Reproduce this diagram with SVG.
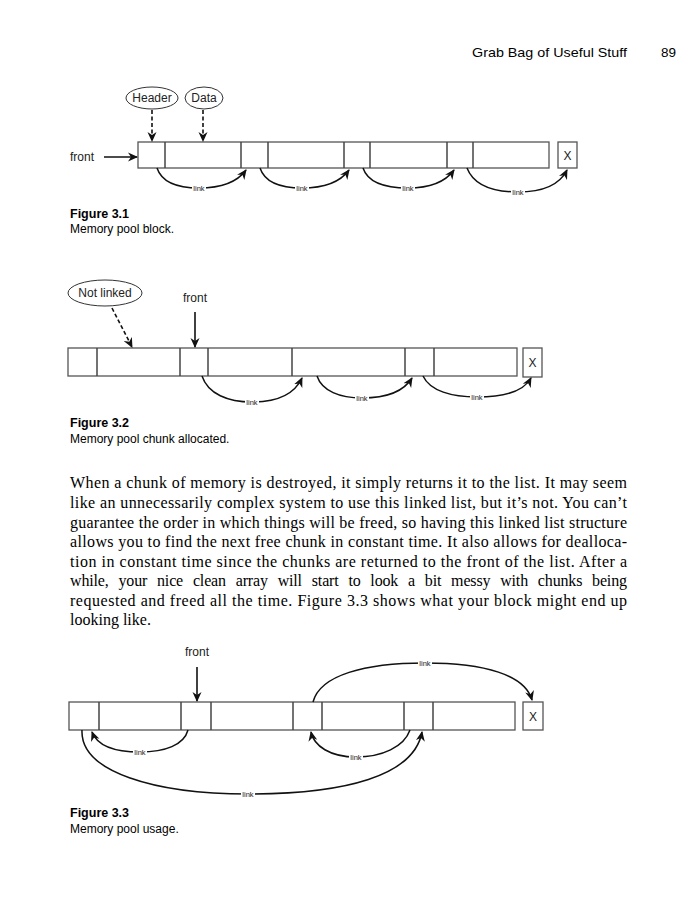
<svg xmlns="http://www.w3.org/2000/svg" width="695" height="904" viewBox="0 0 695 904">
<style>
.cell{fill:#fff;stroke:#555;stroke-width:1.3}
.div{stroke:#444;stroke-width:1.5}
.arc{fill:none;stroke:#111;stroke-width:1.5}
.ptr{fill:none;stroke:#111;stroke-width:1.6}
.dash{fill:none;stroke:#111;stroke-width:1.6;stroke-dasharray:4,2.5}
.ell{fill:#fff;stroke:#333;stroke-width:1}
.lbl{font-family:"Liberation Sans",Arial,sans-serif;font-size:12px;fill:#222}
.lnk{font-family:"Liberation Sans",Arial,sans-serif;font-size:7.5px;fill:#222;text-anchor:middle}
.lbg{fill:#fff}
.cap{font-family:"Liberation Sans",Arial,sans-serif;font-size:12px;fill:#000}
.capb{font-family:"Liberation Sans",Arial,sans-serif;font-size:12.5px;font-weight:bold;fill:#000}
.body{font-family:"Liberation Serif","Times New Roman",serif;font-size:16px;fill:#000}
.hdr{font-family:"Liberation Sans",Arial,sans-serif;font-size:13.5px;fill:#000}
</style>
<defs>
<marker id="ah" markerWidth="10" markerHeight="10" refX="9" refY="5" orient="auto" markerUnits="userSpaceOnUse">
<path d="M0,0.5 L10,5 L0,9.5 L3,5 z" fill="#111"/>
</marker>
</defs>

<g id="page-header">
<text class="hdr" x="472" y="57" textLength="155" lengthAdjust="spacingAndGlyphs">Grab Bag of Useful Stuff</text>
<text class="hdr" x="661" y="57">89</text>
</g>

<!-- Figure 3.1 -->
<g id="fig31-block">
<rect class="cell" x="138" y="142" width="411" height="26"/>
<line class="div" x1="165" y1="142" x2="165" y2="168"/>
<line class="div" x1="241" y1="142" x2="241" y2="168"/>
<line class="div" x1="268" y1="142" x2="268" y2="168"/>
<line class="div" x1="344" y1="142" x2="344" y2="168"/>
<line class="div" x1="370" y1="142" x2="370" y2="168"/>
<line class="div" x1="447" y1="142" x2="447" y2="168"/>
<line class="div" x1="473" y1="142" x2="473" y2="168"/>
</g>
<g id="fig31-null">
<rect class="cell" x="558" y="142" width="19" height="26"/>
<text class="lbl" x="567.5" y="159.5" text-anchor="middle">X</text>
</g>
<g id="fig31-header">
<ellipse class="ell" cx="152" cy="98" rx="26" ry="11"/>
<text class="lbl" x="152" y="102" text-anchor="middle" font-size="11.5px">Header</text>
</g>
<g id="fig31-data">
<ellipse class="ell" cx="204" cy="98" rx="19" ry="11"/>
<text class="lbl" x="204" y="102" text-anchor="middle" font-size="11.5px">Data</text>
</g>
<g id="fig31-front">
<text class="lbl" x="70" y="161">front</text>
</g>
<g id="fig31-connectors">
<line class="ptr" x1="104" y1="157" x2="137" y2="157" marker-end="url(#ah)"/>
<line class="dash" x1="152" y1="110" x2="152" y2="141" marker-end="url(#ah)"/>
<line class="dash" x1="203" y1="110" x2="203" y2="141" marker-end="url(#ah)"/>
<path class="arc" d="M157,168 C162,183 178,188 199,188 C222,188 238,181 246,170" marker-end="url(#ah)"/>
<path class="arc" d="M260,168 C265,183 281,188 302,188 C325,188 341,181 349,170" marker-end="url(#ah)"/>
<path class="arc" d="M363,168 C368,183 386,188 408,188 C431,188 446,181 454,170" marker-end="url(#ah)"/>
<path class="arc" d="M467,168 C474,186 494,192 518,192 C543,192 560,184 567,170" marker-end="url(#ah)"/>
<rect class="lbg" x="192" y="184" width="14" height="8"/>
<rect class="lbg" x="295" y="184" width="14" height="8"/>
<rect class="lbg" x="401" y="184" width="14" height="8"/>
<rect class="lbg" x="511" y="188" width="14" height="8"/>
<text class="lnk" x="199" y="190.5">link</text>
<text class="lnk" x="302" y="190.5">link</text>
<text class="lnk" x="408" y="190.5">link</text>
<text class="lnk" x="518" y="194.5">link</text>
</g>
<g id="fig31-caption">
<text class="capb" x="70" y="218">Figure 3.1</text>
<text class="cap" x="70" y="233">Memory pool block.</text>
</g>

<!-- Figure 3.2 -->
<g id="fig32-block">
<rect class="cell" x="68" y="348" width="449" height="28"/>
<line class="div" x1="97" y1="348" x2="97" y2="376"/>
<line class="div" x1="180" y1="348" x2="180" y2="376"/>
<line class="div" x1="208" y1="348" x2="208" y2="376"/>
<line class="div" x1="292" y1="348" x2="292" y2="376"/>
<line class="div" x1="405" y1="348" x2="405" y2="376"/>
<line class="div" x1="434" y1="348" x2="434" y2="376"/>
</g>
<g id="fig32-null">
<rect class="cell" x="523" y="348" width="19" height="29"/>
<text class="lbl" x="532.5" y="366.5" text-anchor="middle">X</text>
</g>
<g id="fig32-notlinked">
<ellipse class="ell" cx="105" cy="293" rx="37" ry="13"/>
<text class="lbl" x="105" y="297" text-anchor="middle" font-size="12.5px">Not linked</text>
</g>
<g id="fig32-front">
<text class="lbl" x="195" y="302" text-anchor="middle" font-size="12.5px">front</text>
</g>
<g id="fig32-connectors">
<line class="dash" x1="112" y1="308" x2="132" y2="347" marker-end="url(#ah)"/>
<line class="ptr" x1="195" y1="312" x2="195" y2="347" marker-end="url(#ah)"/>
<path class="arc" d="M202,376 C208,394 228,402 252,402 C278,402 295,393 302,378" marker-end="url(#ah)"/>
<path class="arc" d="M317,376 C322,391 340,398 362,398 C386,398 404,391 412,378" marker-end="url(#ah)"/>
<path class="arc" d="M423,376 C430,391 452,397 477,397 C504,397 524,391 531,378" marker-end="url(#ah)"/>
<rect class="lbg" x="245" y="398" width="14" height="8"/>
<rect class="lbg" x="355" y="394" width="14" height="8"/>
<rect class="lbg" x="470" y="393" width="14" height="8"/>
<text class="lnk" x="252" y="405">link</text>
<text class="lnk" x="362" y="400.5">link</text>
<text class="lnk" x="477" y="399.5">link</text>
</g>
<g id="fig32-caption">
<text class="capb" x="70" y="427">Figure 3.2</text>
<text class="cap" x="70" y="443">Memory pool chunk allocated.</text>
</g>

<!-- Body text -->
<g id="body-text">
<text class="body" x="70" y="488" textLength="557" lengthAdjust="spacing">When a chunk of memory is destroyed, it simply returns it to the list. It may seem</text>
<text class="body" x="70" y="508" textLength="557" lengthAdjust="spacing">like an unnecessarily complex system to use this linked list, but it’s not. You can’t</text>
<text class="body" x="70" y="528" textLength="557" lengthAdjust="spacing">guarantee the order in which things will be freed, so having this linked list structure</text>
<text class="body" x="70" y="547" textLength="557" lengthAdjust="spacing">allows you to find the next free chunk in constant time. It also allows for dealloca-</text>
<text class="body" x="70" y="567" textLength="557" lengthAdjust="spacing">tion in constant time since the chunks are returned to the front of the list. After a</text>
<text class="body" x="70" y="586" textLength="557" lengthAdjust="spacing" word-spacing="6">while, your nice clean array will start to look a bit messy with chunks being</text>
<text class="body" x="70" y="606" textLength="557" lengthAdjust="spacing">requested and freed all the time. Figure 3.3 shows what your block might end up</text>
<text class="body" x="70" y="625">looking like.</text>
</g>

<!-- Figure 3.3 -->
<g id="fig33-block">
<rect class="cell" x="69" y="702" width="446" height="28"/>
<line class="div" x1="99" y1="702" x2="99" y2="730"/>
<line class="div" x1="181" y1="702" x2="181" y2="730"/>
<line class="div" x1="211" y1="702" x2="211" y2="730"/>
<line class="div" x1="293" y1="702" x2="293" y2="730"/>
<line class="div" x1="322" y1="702" x2="322" y2="730"/>
<line class="div" x1="404" y1="702" x2="404" y2="730"/>
<line class="div" x1="433" y1="702" x2="433" y2="730"/>
</g>
<g id="fig33-null">
<rect class="cell" x="523" y="702" width="20" height="28"/>
<text class="lbl" x="533" y="720.5" text-anchor="middle">X</text>
</g>
<g id="fig33-front">
<text class="lbl" x="197" y="656" text-anchor="middle" font-size="12.5px">front</text>
</g>
<g id="fig33-connectors">
<line class="ptr" x1="197" y1="667" x2="197" y2="701" marker-end="url(#ah)"/>
<path class="arc" d="M188,730 C184,745 165,752 140,752 C114,752 97,745 92,732" marker-end="url(#ah)"/>
<path class="arc" d="M82,730 C80,772 155,794 248,794 C345,794 414,776 422,732" marker-end="url(#ah)"/>
<path class="arc" d="M410,730 C404,747 382,757 356,757 C330,757 314,746 311,732" marker-end="url(#ah)"/>
<path class="arc" d="M313,702 C320,675 365,663 425,663 C485,663 525,675 532,700" marker-end="url(#ah)"/>
<rect class="lbg" x="133" y="748" width="14" height="8"/>
<rect class="lbg" x="241" y="790" width="14" height="8"/>
<rect class="lbg" x="349" y="753" width="14" height="8"/>
<rect class="lbg" x="418" y="659" width="14" height="8"/>
<text class="lnk" x="140" y="754.5">link</text>
<text class="lnk" x="248" y="796.5">link</text>
<text class="lnk" x="356" y="759.5">link</text>
<text class="lnk" x="425" y="665.5">link</text>
</g>
<g id="fig33-caption">
<text class="capb" x="70" y="817">Figure 3.3</text>
<text class="cap" x="70" y="833">Memory pool usage.</text>
</g>
</svg>
